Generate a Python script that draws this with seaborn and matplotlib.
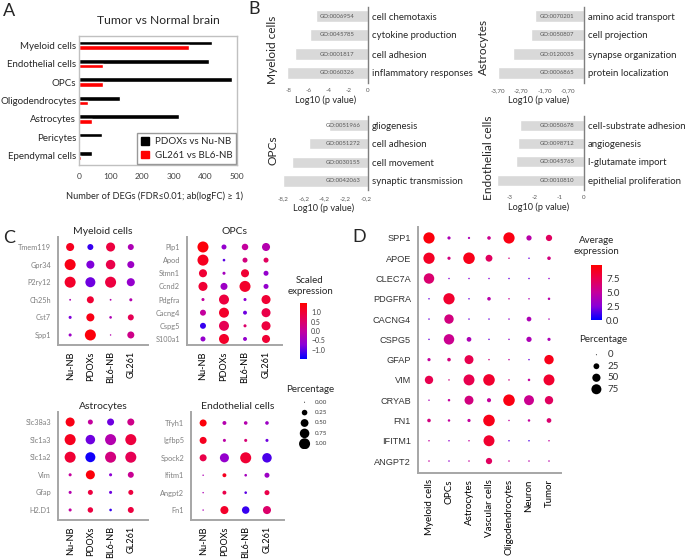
import numpy as np
import pandas as pd
import matplotlib
matplotlib.use("Agg")
from matplotlib import pyplot as plt
from matplotlib.colors import LinearSegmentedColormap, Normalize
from matplotlib.cm import ScalarMappable
from matplotlib.patches import Patch
import seaborn as sns

# ---------------- A: number of DEGs
deg_cells = ["Myeloid cells", "Endothelial cells", "OPCs", "Oligodendrocytes",
             "Astrocytes", "Pericytes", "Ependymal cells"]
deg_pdox = [422, 410, 485, 130, 315, 72, 42]
deg_gl261 = [348, 76, 75, 30, 40, 3, 7]
deg_groups = ["PDOXs vs Nu-NB", "GL261 vs BL6-NB"]

# ---------------- B: GO enrichment
go_my_terms = ["cell chemotaxis", "cytokine production", "cell adhesion", "inflammatory responses"]
go_my_ids = ["GO:0006954", "GO:0045785", "GO:0001817", "GO:0060326"]
go_my_vals = [-5.3, -5.9, -7.4, -8.2]

go_as_terms = ["amino acid transport", "cell projection", "synapse organization", "protein localization"]
go_as_ids = ["GO:0070201", "GO:0050807", "GO:0120035", "GO:0006865"]
go_as_vals = [-2.1, -2.28, -3.06, -3.69]

go_op_terms = ["gliogenesis", "cell adhesion", "cell movement", "synaptic transmission"]
go_op_ids = ["GO:0051966", "GO:0051272", "GO:0030155", "GO:0042063"]
go_op_vals = [-3.8, -5.7, -7.3, -8.2]

go_en_terms = ["cell-substrate adhesion", "angiogenesis", "l-glutamate import", "epithelial proliferation"]
go_en_ids = ["GO:0050678", "GO:0098712", "GO:0045765", "GO:0010810"]
go_en_vals = [-2.6, -2.68, -2.77, -3.53]

# ---------------- C: dot plots (rows = genes, cols = conditions)
conds = ["Nu-NB", "PDOXs", "BL6-NB", "GL261"]

my_genes = ["Tmem119", "Gpr34", "P2ry12", "Ch25h", "Cst7", "Spp1"]
my_pct = [[0.53, 0.29, 0.67, 0.29],
          [1.00, 0.53, 0.74, 0.40],
          [1.00, 0.82, 1.00, 0.53],
          [0.02, 0.40, 0.02, 0.07],
          [0.07, 0.53, 0.05, 0.29],
          [0.07, 1.00, 0.01, 0.40]]
my_expr = [[1.2, -1.2, 0.9, -0.3],
           [1.3, -0.8, 0.8, -0.5],
           [1.1, -0.9, 0.9, -0.6],
           [-0.3, 1.0, -0.2, -0.2],
           [-0.8, 1.3, -0.3, 0.7],
           [-0.5, 1.4, -0.2, 0.2]]

op_genes = ["Plp1", "Apod", "Stmn1", "Ccnd2", "Pdgfra", "Cacng4", "Cspg5", "S100a1"]
op_pct = [[1.00, 0.20, 0.34, 0.53],
          [1.00, 0.05, 0.20, 0.20],
          [0.53, 0.07, 0.53, 0.20],
          [0.67, 0.40, 1.00, 0.20],
          [0.07, 0.82, 0.07, 0.67],
          [0.29, 0.82, 0.12, 0.67],
          [0.29, 0.82, 0.07, 0.67],
          [0.20, 0.82, 0.12, 0.53]]
op_expr = [[1.4, -0.6, 0.0, -0.2],
           [1.2, -1.0, 0.3, 0.6],
           [1.0, -0.4, 1.0, -0.6],
           [1.0, -0.5, 1.1, -0.6],
           [0.0, 0.9, -0.7, 1.0],
           [0.0, 1.1, -0.9, 0.8],
           [-1.2, 0.7, 0.5, 0.9],
           [-0.6, 1.1, -0.6, 1.0]]

as_genes = ["Slc38a3", "Slc1a3", "Slc1a2", "Vim", "Gfap", "H2.D1"]
as_pct = [[0.67, 0.20, 0.40, 0.40],
          [1.00, 0.74, 1.00, 1.00],
          [1.00, 0.82, 1.00, 1.00],
          [0.07, 0.67, 0.07, 0.29],
          [0.07, 0.20, 0.07, 0.20],
          [0.07, 0.24, 0.05, 0.29]]
as_expr = [[1.3, 0.0, -0.9, 0.2],
           [1.2, -0.9, -0.2, 0.9],
           [1.0, -1.4, 0.3, 0.7],
           [0.0, 1.4, -0.7, 0.1],
           [-0.2, 0.9, -0.9, 0.9],
           [0.0, 0.9, -1.2, 0.9]]

en_genes = ["Tfyh1", "Igfbp5", "Spock2", "Ifitm1", "Angpt2", "Fn1"]
en_pct = [[0.40, 0.12, 0.10, 0.10],
          [0.40, 0.07, 0.07, 0.07],
          [0.40, 0.67, 1.00, 0.74],
          [0.01, 0.12, 0.05, 0.20],
          [0.01, 0.12, 0.05, 0.20],
          [0.01, 0.53, 0.46, 0.53]]
en_expr = [[1.4, -0.2, -0.2, -0.5],
           [1.2, -0.1, 0.4, -0.9],
           [0.8, -0.6, 1.0, -1.1],
           [-0.3, 1.2, -0.4, -0.5],
           [-0.3, 0.8, -1.0, 0.8],
           [-0.3, 1.1, -1.2, 0.5]]

pct_levels_c = [0.00, 0.25, 0.50, 0.75, 1.00]
scaled_ticks = [1.0, 0.5, 0.0, -0.5, -1.0]

# ---------------- D: marker dot plot
d_cells = ["Myeloid cells", "OPCs", "Astrocytes", "Vascular cells",
           "Oligodendrocytes", "Neuron", "Tumor"]
d_genes = ["SPP1", "APOE", "CLEC7A", "PDGFRA", "CACNG4", "CSPG5", "GFAP",
           "VIM", "CRYAB", "FN1", "IFITM1", "ANGPT2"]
d_pct = [[95, 7, 3, 9, 95, 20, 29],
         [95, 7, 100, 35, 1, 1, 9],
         [82, 1, 1, 1, 1, 1, 1],
         [1, 95, 1, 9, 1, 1, 4],
         [1, 66, 1, 1, 1, 16, 1],
         [1, 82, 16, 1, 1, 20, 7],
         [7, 9, 60, 1, 1, 1, 66],
         [52, 1, 90, 100, 1, 4, 90],
         [1, 4, 60, 12, 100, 74, 52],
         [9, 4, 7, 100, 1, 4, 16],
         [1, 1, 1, 90, 1, 1, 1],
         [1, 1, 1, 29, 1, 1, 1]]
d_expr = [[9.6, 4.0, 4.0, 5.5, 9.4, 4.5, 7.0],
          [8.8, 6.0, 9.2, 7.0, 6.0, 2.0, 6.0],
          [6.5, 2.5, 2.5, 2.5, 2.0, 2.0, 3.0],
          [2.0, 8.5, 2.0, 4.5, 5.0, 4.0, 4.5],
          [2.0, 6.0, 2.0, 2.0, 3.0, 4.0, 4.0],
          [2.0, 5.5, 4.0, 2.0, 3.0, 4.0, 4.0],
          [5.0, 6.0, 7.5, 6.0, 5.0, 2.0, 9.2],
          [7.5, 6.0, 7.5, 8.5, 6.0, 5.0, 8.5],
          [4.0, 5.0, 6.0, 5.0, 9.4, 5.5, 7.0],
          [6.0, 5.0, 5.0, 9.2, 5.0, 5.0, 6.5],
          [5.0, 3.0, 5.0, 8.5, 2.0, 1.5, 5.0],
          [5.0, 3.0, 5.0, 7.0, 5.0, 4.5, 4.5]]
pct_levels_d = [0, 25, 50, 75]
avg_ticks = [0.0, 2.5, 5.0, 7.5]

# ---------------- figure
W, H = 685, 559
sns.set_theme(style="white")
plt.rcParams["font.family"] = ["Lato", "DejaVu Sans"]
fig = plt.figure(figsize=(W / 100, H / 100), dpi=100)

cmap = LinearSegmentedColormap.from_list(
    "bluered", ["#0000ff", "#8a00d8", "#c4009e", "#e8004f", "#ff0000"])


def px_axes(x0, y0, x1, y1):
    return fig.add_axes([x0 / W, 1 - y1 / H, (x1 - x0) / W, (y1 - y0) / H])


def ftext(x, y, s, **kw):
    fig.text(x / W, 1 - y / H, s, **kw)


# panel letters
for lx, ly, lt in [(9, 11, "A"), (254, 9, "B"), (9, 238, "C"), (359, 237, "D")]:
    ftext(lx, ly, lt, fontsize=13, ha="center", va="center")

# ---------------- A
df_a = pd.DataFrame({
    "cell": deg_cells * 2,
    "group": [deg_groups[0]] * len(deg_cells) + [deg_groups[1]] * len(deg_cells),
    "n": deg_pdox + deg_gl261,
})
axA = px_axes(79, 36, 237, 165)
sns.barplot(data=df_a, x="n", y="cell", hue="group", palette=["black", "red"],
            width=0.5, saturation=1, orient="h", ax=axA, legend=False)
axA.set_xlim(0, 500)
axA.set_ylim(len(deg_cells) - 0.5, -0.5)
axA.set_xticks(range(0, 501, 100))
axA.tick_params(axis="x", labelsize=6, length=0, pad=6, colors="#404040")
axA.tick_params(axis="y", labelsize=7, length=0, pad=2)
axA.set_xlabel("")
axA.set_ylabel("")
for sp in axA.spines.values():
    sp.set_color("#c0c0c0")
    sp.set_linewidth(1)
axA.legend(handles=[Patch(color="black", label=deg_groups[0]),
                    Patch(color="red", label=deg_groups[1])],
           loc="lower right", fontsize=7, frameon=True, fancybox=False,
           edgecolor="#808080", borderaxespad=0.1, handlelength=0.8,
           handleheight=0.8, handletextpad=0.6, labelspacing=0.5)
ftext(158, 21, "Tumor vs Normal brain", fontsize=8.7, ha="center", va="center")
ftext(154, 196, "Number of DEGs (FDR≤0.01; ab(logFC) ≥ 1)", fontsize=6.7,
      ha="center", va="center")


# ---------------- B
def go_panel(box, terms, ids, vals, xlim, ticks, ticklabels, go_off):
    ax = px_axes(*box)
    d = pd.DataFrame({"term": terms, "val": vals})
    sns.barplot(data=d, x="val", y="term", color="#d9d9d9", saturation=1,
                width=0.6, orient="h", ax=ax)
    ax.set_xlim(*xlim)
    ax.set_ylim(len(terms) - 0.5, -0.5)
    ax.yaxis.tick_right()
    ax.set_yticks(range(len(terms)))
    ax.set_yticklabels(terms)
    ax.tick_params(axis="y", labelsize=6.9, length=0, pad=3, colors="#262626")
    ax.set_xticks(ticks)
    ax.set_xticklabels(ticklabels)
    ax.tick_params(axis="x", labelsize=4.5, length=0, pad=4, colors="#595959")
    ax.set_xlabel("Log10 (p value)", fontsize=6.6, labelpad=2)
    ax.set_ylabel("")
    for s in ["top", "left", "bottom"]:
        ax.spines[s].set_visible(False)
    ax.spines["right"].set_color("#7f7f7f")
    ax.spines["right"].set_linewidth(1)
    for i, g in enumerate(ids):
        ax.annotate(g, xy=(1, i), xycoords=("axes fraction", "data"),
                    xytext=(-go_off, 0), textcoords="offset points",
                    ha="center", va="center", fontsize=4.3, color="#595959")
    return ax


go_panel((284, 6.5, 368, 82.5), go_my_terms, go_my_ids, go_my_vals, (-8.5, 0),
         [-8, -6, -4, -2, 0], ["-8", "-6", "-4", "-2", "0"], 22)
go_panel((493.5, 6.5, 584, 82.5), go_as_terms, go_as_ids, go_as_vals, (-3.9, 0),
         [-3.7, -2.7, -1.7, -0.7], ["-3,70", "-2,70", "-1,70", "-0,70"], 19.5)
go_panel((280, 115.7, 368, 190.3), go_op_terms, go_op_ids, go_op_vals, (-8.5, 0),
         [-8.2, -6.2, -4.2, -2.2, -0.2], ["-8,2", "-6,2", "-4,2", "-2,2", "-0,2"], 18)
go_panel((492.6, 116, 584, 189.5), go_en_terms, go_en_ids, go_en_vals, (-3.7, 0),
         [-3, -2, -1, 0], ["-3", "-2", "-1", "0"], 19.5)
ftext(272, 50, "Myeloid cells", fontsize=8.6, rotation=90, ha="center", va="center")
ftext(483, 47, "Astrocytes", fontsize=8.6, rotation=90, ha="center", va="center")
ftext(273, 150, "OPCs", fontsize=8.6, rotation=90, ha="center", va="center")
ftext(488, 158, "Endothelial cells", fontsize=8.6, rotation=90, ha="center", va="center")


# ---------------- dot plot helper
def dot_panel(box, genes, groups, pct, expr, xlim, ylim, norm, sizes, size_norm,
              ylab_kw, xlab_size, title=None):
    ax = px_axes(*box)
    df = pd.DataFrame({
        "gene": np.repeat(genes, len(groups)),
        "group": np.tile(groups, len(genes)),
        "pct": np.ravel(pct),
        "expr": np.ravel(expr),
    })
    sns.scatterplot(data=df, x="group", y="gene", hue="expr", size="pct",
                    palette=cmap, hue_norm=norm, sizes=sizes, size_norm=size_norm,
                    linewidth=0, legend=False, ax=ax)
    ax.set_xlim(*xlim)
    ax.set_ylim(*ylim)
    ax.set_xticks(range(len(groups)))
    ax.set_xticklabels(groups, rotation=90)
    ax.set_yticks(range(len(genes)))
    ax.set_yticklabels(genes)
    ax.tick_params(axis="x", labelsize=xlab_size, length=3, width=0.8,
                   color="#999999", labelcolor="black", pad=1.5)
    ax.tick_params(axis="y", length=3, width=0.8, color="#999999", pad=2, **ylab_kw)
    ax.set_xlabel("")
    ax.set_ylabel("")
    for s in ["top", "right"]:
        ax.spines[s].set_visible(False)
    for s in ["left", "bottom"]:
        ax.spines[s].set_color("#a6a6a6")
        ax.spines[s].set_linewidth(1.4)
    if title:
        ax.set_title(title, fontsize=7.5, pad=2)
    return ax


c_norm = (-1.5, 1.5)
c_sizes = (0.5, 63)
c_ylab = dict(labelsize=5.3, labelcolor="#7f7f7f")
dot_panel((58, 237, 148, 345), my_genes, conds, my_pct, my_expr, (-0.6, 3.85),
          (5.57, -0.57), c_norm, c_sizes, (0, 1), c_ylab, 6.6, "Myeloid cells")
dot_panel((187, 237, 282, 345), op_genes, conds, op_pct, op_expr, (-0.76, 3.76),
          (7.46, -0.76), c_norm, c_sizes, (0, 1), c_ylab, 6.6, "OPCs")
dot_panel((58, 412, 148, 520), as_genes, conds, as_pct, as_expr, (-0.6, 3.85),
          (5.57, -0.57), c_norm, c_sizes, (0, 1), c_ylab, 6.6, "Astrocytes")
dot_panel((191, 412, 284, 520), en_genes, conds, en_pct, en_expr, (-0.57, 3.8),
          (5.57, -0.63), c_norm, c_sizes, (0, 1), c_ylab, 6.6, "Endothelial cells")

# C colour bar
caxC = px_axes(300, 303, 307, 359)
cbC = fig.colorbar(ScalarMappable(norm=Normalize(*c_norm), cmap=cmap), cax=caxC)
cbC.outline.set_visible(False)
cbC.set_ticks(scaled_ticks)
caxC.tick_params(labelsize=5, length=2, width=0.6, color="white",
                 direction="in", pad=3, labelcolor="#404040")
ftext(310, 286, "Scaled\nexpression", fontsize=7, ha="center", va="center",
      linespacing=1.3)

# C percentage legend
laxC = px_axes(296, 397, 326, 449)
sns.scatterplot(x=[0] * len(pct_levels_c), y=range(len(pct_levels_c)),
                size=pct_levels_c, sizes=c_sizes, size_norm=(0, 1), color="black",
                linewidth=0, legend=False, ax=laxC)
laxC.set_xlim(-1, 2.5)
laxC.set_ylim(len(pct_levels_c) - 0.5, -0.5)
laxC.axis("off")
for i, v in enumerate(pct_levels_c):
    laxC.text(1.2, i, f"{v:.2f}", fontsize=4.5, va="center", color="#404040")
ftext(310, 390, "Percentage", fontsize=7, ha="center", va="center")

# ---------------- D
axD = dot_panel((418, 227, 561, 473), d_genes, d_cells, d_pct, d_expr, (-0.55, 6.6),
                (11.59, -0.54), (0, 10), (0.5, 69), (0, 100),
                dict(labelsize=6.6, labelcolor="#333333", labelfontfamily="Liberation Sans"), 7)

caxD = px_axes(591, 265, 602, 320)
cbD = fig.colorbar(ScalarMappable(norm=Normalize(0, 10), cmap=cmap), cax=caxD)
cbD.outline.set_visible(False)
cbD.set_ticks(avg_ticks)
caxD.tick_params(labelsize=7, length=2, width=0.6, color="white",
                 direction="in", pad=3, labelcolor="#333333")
ftext(597, 246, "Average\nexpression", fontsize=7, ha="center", va="center",
      linespacing=1.3)

laxD = px_axes(588, 349, 630, 395)
sns.scatterplot(x=[0] * len(pct_levels_d), y=range(len(pct_levels_d)),
                size=pct_levels_d, sizes=(0.5, 69), size_norm=(0, 100), color="black",
                linewidth=0, legend=False, ax=laxD)
laxD.set_xlim(-1, 4)
laxD.set_ylim(len(pct_levels_d) - 0.5, -0.5)
laxD.axis("off")
for i, v in enumerate(pct_levels_d):
    laxD.text(1.3, i, str(v), fontsize=7, va="center", color="#333333")
ftext(603, 340, "Percentage", fontsize=7, ha="center", va="center")

fig.savefig("out.png", dpi=100)
